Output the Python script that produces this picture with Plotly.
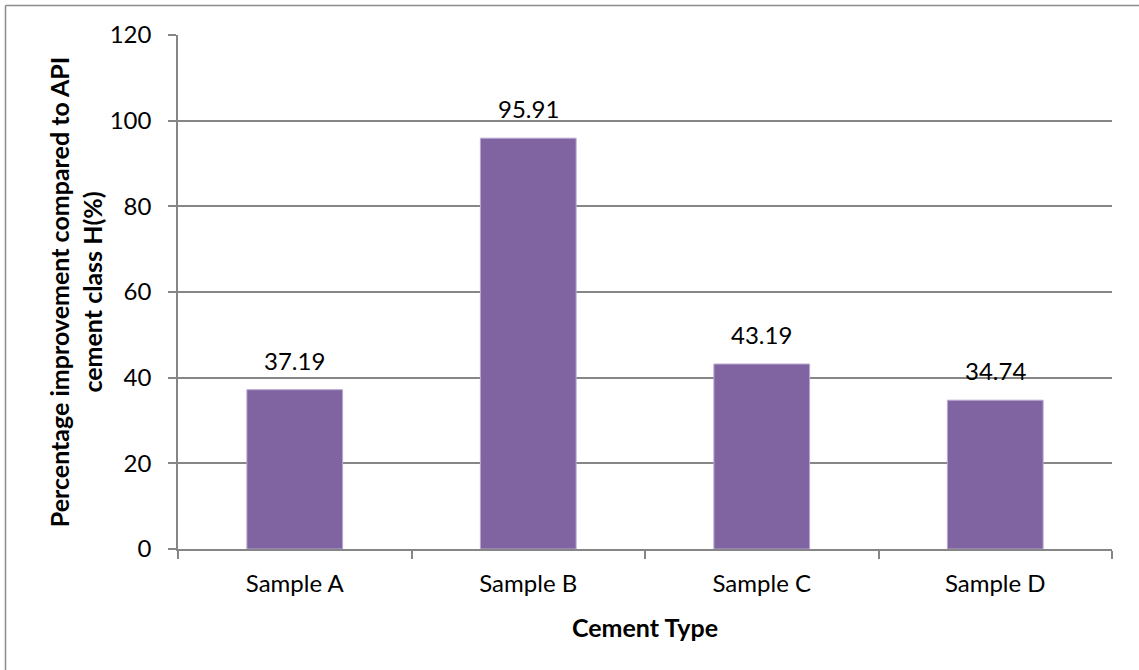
import plotly.graph_objects as go

categories = ["Sample A", "Sample B", "Sample C", "Sample D"]
improvement = [37.19, 95.91, 43.19, 34.74]
y_ticks = [0, 20, 40, 60, 80, 100, 120]

W, H = 1139, 670
L, R, T, B = 178, 27, 35, 121
pw, ph = W - L - R, H - T - B

FONT = "Lato, 'Open Sans', sans-serif"
GRID = "#868686"

fig = go.Figure(
    go.Bar(
        x=categories,
        y=improvement,
        marker=dict(color="#8064A2", line=dict(color="#B9A8CF", width=1)),
        width=0.41,
        hoverinfo="x+y",
    )
)

# value labels sit a little above each bar
for cat, val in zip(categories, improvement):
    fig.add_annotation(
        x=cat, y=val, xref="x", yref="y",
        text=f"{val:.2f}",
        showarrow=False,
        yanchor="bottom",
        yshift=13,
        font=dict(family=FONT, size=24, color="#000000"),
    )


def px_x(p):
    return (p - L) / pw


def px_y(p):
    return 1 - (p - T) / ph


fig.update_layout(
    width=W,
    height=H,
    margin=dict(l=L, r=R, t=T, b=B),
    paper_bgcolor="white",
    plot_bgcolor="white",
    showlegend=False,
    font=dict(family=FONT, size=24, color="#000000"),
    shapes=[
        dict(type="line", xref="paper", yref="paper",
             x0=px_x(5.5), x1=px_x(W + 5), y0=px_y(5.5), y1=px_y(5.5),
             line=dict(color="#8C8C8C", width=1.5)),
        dict(type="line", xref="paper", yref="paper",
             x0=px_x(5.5), x1=px_x(5.5), y0=px_y(5.5), y1=px_y(H + 5),
             line=dict(color="#8C8C8C", width=1.5)),
    ],
)

fig.update_xaxes(
    type="category",
    tickson="boundaries",
    ticks="outside",
    ticklen=8,
    tickcolor=GRID,
    tickwidth=1.5,
    showline=True,
    linecolor=GRID,
    linewidth=1.5,
    showgrid=False,
    tickfont=dict(family=FONT, size=24),
    ticklabelstandoff=12,
    title=dict(text="<b>Cement Type</b>", font=dict(family=FONT, size=25), standoff=24),
)

fig.update_yaxes(
    range=[0, 120],
    tickvals=y_ticks,
    ticks="outside",
    ticklen=8,
    tickcolor=GRID,
    tickwidth=1.5,
    showline=True,
    linecolor=GRID,
    linewidth=1.5,
    showgrid=True,
    gridcolor=GRID,
    gridwidth=1.5,
    zeroline=False,
    tickfont=dict(family=FONT, size=24),
    ticklabelstandoff=12,
    title=dict(
        text="<b>Percentage improvement compared to API<br>cement class H(%)</b>",
        font=dict(family=FONT, size=25),
        standoff=0,
    ),
)

fig.write_html("out.html")
